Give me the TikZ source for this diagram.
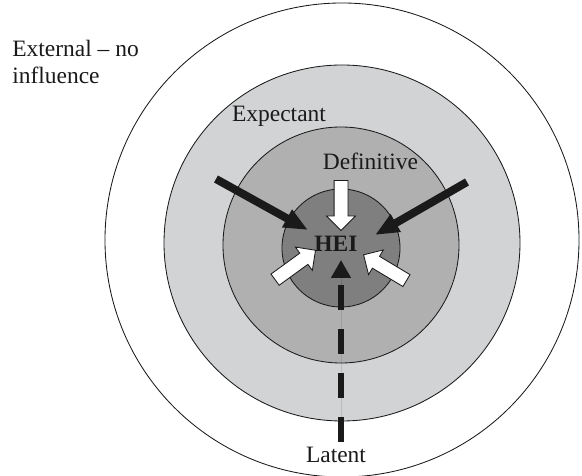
\documentclass[tikz,border=0pt]{standalone}
\usepackage{fontspec}
\setmainfont{Liberation Serif}
\usetikzlibrary{arrows.meta, shapes.arrows}
\definecolor{ringlight}{RGB}{209,211,212}
\definecolor{ringmid}{RGB}{176,176,176}
\definecolor{ringdark}{RGB}{127,127,127}
\definecolor{inkblack}{RGB}{26,26,26}

\begin{document}
\begin{tikzpicture}[>=Stealth,
  ring/.style={draw=inkblack, line width=0.6pt},
  txt/.style={font=\fontsize{16.7}{19.9}\selectfont, text=inkblack, inner sep=0pt},
  blackarrow/.style={-{Triangle[length=0.6cm, width=0.47cm]}, line width=0.2cm, draw=inkblack, fill=inkblack},
  latentarrow/.style={-{Triangle[length=0.45cm, width=0.475cm]}, line width=0.15cm, draw=inkblack, fill=inkblack, dash pattern=on 0.625cm off 0.475cm},
  whitearrow/.style={single arrow, draw=inkblack, fill=white, line width=0.6pt, inner sep=0.1625cm, single arrow head extend=0.1875cm, minimum height=1.25cm}]

\useasboundingbox (-8.55,-5.9) rectangle (6.0,6.0);

\draw[ring, fill=white] (0,0) circle (5.925);
\draw[ring, fill=ringlight] (0,-0.075) circle (4.45);
\draw[ring, fill=ringmid] (-0.025,-0.125) circle (2.95);
\draw[ring, fill=ringdark] (-0.025,-0.2) circle (1.475);

\node[txt, anchor=base west, align=left] (external) at (-8.25,3.9) {External -- no\\influence};
\node[txt, anchor=base] (expectant) at (-1.575,2.95) {Expectant};
\node[txt, anchor=base] (definitive) at (0.7125,1.75) {Definitive};
\node[txt, anchor=base] (hei) at (-0.15,-0.3) {\bfseries HEI};
\node[txt, anchor=base] (latent) at (-0.15,-5.575) {Latent};

\coordinate (tailL) at (-3.15,1.525); \coordinate (tipL) at (-0.85,0.25);
\coordinate (tailR) at (3.125,1.45);  \coordinate (tipR) at (0.825,0.125);
\draw[blackarrow] (tailL) -- (tipL);
\draw[blackarrow] (tailR) -- (tipR);

\node[whitearrow, rotate=-90] (defArrow) at (-0.025,0.95) {};
\node[whitearrow, rotate=36] (lowArrowL) at (-1.2375,-0.675) {};
\node[whitearrow, rotate=149] (lowArrowR) at (1.15,-0.7375) {};

\coordinate (latentEnd) at (-0.025,-5.05); \coordinate (heiBase) at (-0.025,-0.5);
\draw[latentarrow] (latentEnd) -- (heiBase);

\end{tikzpicture}
\end{document}
